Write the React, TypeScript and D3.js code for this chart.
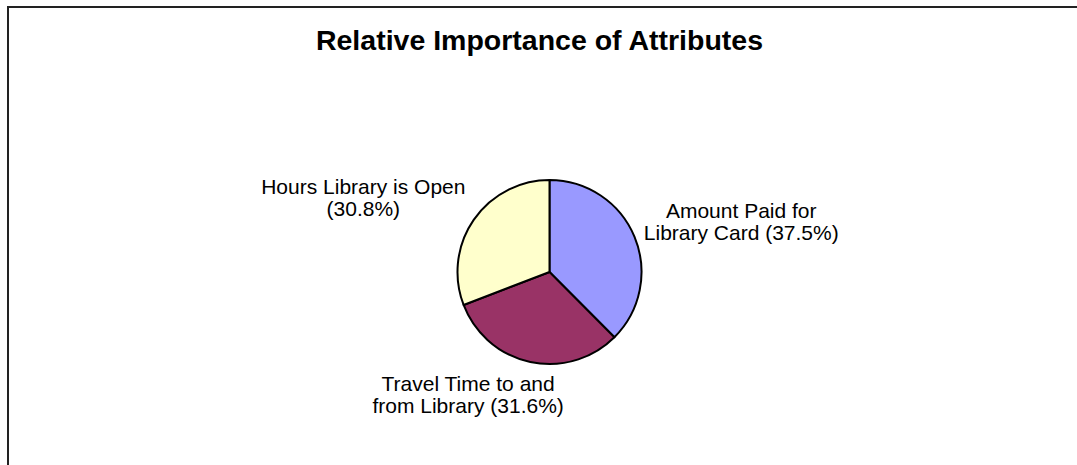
import React, { useEffect, useRef } from "react";
import * as d3 from "d3";

const title = "Relative Importance of Attributes";
const categories = ["Amount Paid for Library Card", "Travel Time to and from Library", "Hours Library is Open"];
const labelLines = [
  ["Amount Paid for", "Library Card (37.5%)"],
  ["Travel Time to and", "from Library (31.6%)"],
  ["Hours Library is Open", "(30.8%)"],
];
const values = [37.5, 31.6, 30.8];
const colors = ["#9999FF", "#993366", "#FFFFCC"];

const W = 1077;
const H = 465;
const FONT = "'Liberation Sans', Arial, sans-serif";

export default function App() {
  const ref = useRef<SVGSVGElement | null>(null);

  useEffect(() => {
    const svg = d3.select(ref.current);
    svg.selectAll("*").remove();

    // chart border (extends beyond view on right and bottom)
    svg.append("path")
      .attr("d", `M8,${H + 5} L8,7 L${W + 5},7`)
      .attr("fill", "none")
      .attr("stroke", "#222")
      .attr("stroke-width", 2);

    svg.append("text")
      .attr("x", 539.5)
      .attr("y", 50)
      .attr("text-anchor", "middle")
      .attr("font-family", FONT)
      .attr("font-weight", "bold")
      .attr("font-size", 28.5)
      .attr("fill", "#000")
      .text(title);

    const cx = 549.5, cy = 272, r = 92;
    const pie = d3.pie<number>().sort(null).value((d) => d)(values);
    const arc = d3.arc<d3.PieArcDatum<number>>().innerRadius(0).outerRadius(r);

    const g = svg.append("g").attr("transform", `translate(${cx},${cy})`);
    g.selectAll("path.slice")
      .data(pie)
      .enter()
      .append("path")
      .attr("class", "slice")
      .attr("d", arc as any)
      .attr("fill", (_d, i) => colors[i])
      .attr("stroke", "#000")
      .attr("stroke-width", 2)
      .attr("stroke-linejoin", "round");

    const clamp = (v: number) => Math.max(-1, Math.min(1, v));
    const fs = 21;
    const lineH = 22.5;
    const halfH = 23;
    const d = 10;

    pie.forEach((p, i) => {
      const mid = (p.startAngle + p.endAngle) / 2;
      const s = Math.sin(mid);
      const c = -Math.cos(mid);
      const t = svg.append("text")
        .attr("font-family", FONT)
        .attr("font-size", fs)
        .attr("fill", "#000")
        .attr("text-anchor", "middle")
        .attr("data-category", categories[i]);
      const spans = labelLines[i].map((ln, j) =>
        t.append("tspan").attr("dy", j === 0 ? 0 : lineH).text(ln)
      );
      let maxW = 0;
      spans.forEach((sp) => {
        const n = sp.node() as SVGTSpanElement;
        maxW = Math.max(maxW, n.getComputedTextLength());
      });
      const halfW = maxW / 2;
      const ax = cx + s * (r + d);
      const ay = cy + c * (r + d);
      const lx = ax + halfW * clamp(3 * s);
      const ly = ay + halfH * clamp(1.3 * c);
      const b1 = ly - 3.75;
      t.attr("x", lx).attr("y", b1);
      spans.forEach((sp) => sp.attr("x", lx));
    });
  }, []);

  return (
    <svg
      ref={ref}
      width={W}
      height={H}
      style={{ position: "absolute", left: 0, top: 0, background: "#fff" }}
    />
  );
}
